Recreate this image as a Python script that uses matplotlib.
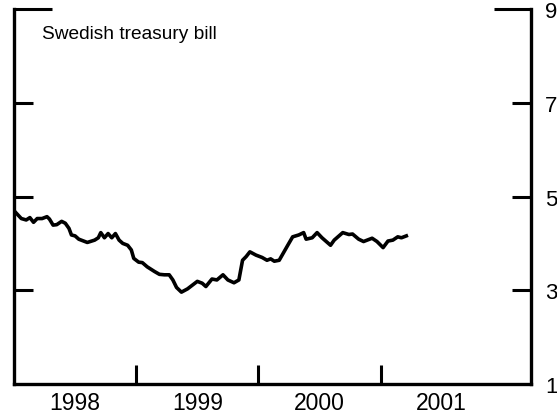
import matplotlib
matplotlib.use("Agg")
import matplotlib.pyplot as plt

plt.rcParams['font.family'] = ['Liberation Sans', 'DejaVu Sans']

# Swedish treasury bill rate, percent
years = [1998.01, 1998.06, 1998.10, 1998.13, 1998.16, 1998.19, 1998.23, 1998.27,
         1998.29, 1998.32, 1998.35, 1998.39, 1998.42, 1998.45, 1998.47, 1998.50,
         1998.53, 1998.60, 1998.66, 1998.69, 1998.71, 1998.74, 1998.77, 1998.80,
         1998.83, 1998.86, 1998.89, 1998.93, 1998.96, 1998.98, 1999.02, 1999.05,
         1999.09, 1999.15, 1999.19, 1999.23, 1999.27, 1999.30, 1999.33, 1999.37,
         1999.42, 1999.46, 1999.50, 1999.54, 1999.57, 1999.62, 1999.66, 1999.71,
         1999.75, 1999.80, 1999.84, 1999.87, 1999.90, 1999.93, 1999.98, 2000.03,
         2000.07, 2000.10, 2000.13, 2000.17, 2000.24, 2000.28, 2000.33, 2000.37,
         2000.39, 2000.44, 2000.48, 2000.52, 2000.59, 2000.62, 2000.69, 2000.74,
         2000.77, 2000.82, 2000.86, 2000.93, 2000.97, 2001.02, 2001.06, 2001.10,
         2001.14, 2001.17, 2001.21]
rate = [4.67, 4.53, 4.50, 4.55, 4.45, 4.53, 4.53, 4.57,
        4.52, 4.39, 4.40, 4.47, 4.43, 4.32, 4.18, 4.16,
        4.09, 4.02, 4.07, 4.12, 4.23, 4.12, 4.21, 4.12,
        4.21, 4.07, 4.00, 3.96, 3.86, 3.68, 3.60, 3.59,
        3.50, 3.40, 3.34, 3.33, 3.33, 3.22, 3.06, 2.96,
        3.03, 3.11, 3.19, 3.15, 3.08, 3.24, 3.22, 3.33,
        3.22, 3.16, 3.22, 3.64, 3.72, 3.82, 3.75, 3.70,
        3.64, 3.67, 3.62, 3.64, 3.96, 4.14, 4.18, 4.23,
        4.09, 4.12, 4.23, 4.12, 3.96, 4.07, 4.23, 4.19,
        4.20, 4.09, 4.04, 4.11, 4.04, 3.91, 4.05, 4.07,
        4.14, 4.12, 4.16]

year_labels = ['1998', '1999', '2000', '2001']
year_starts = [1998, 1999, 2000, 2001]
y_ticks = [1, 3, 5, 7, 9]

fig = plt.figure(figsize=(5.57, 4.14), dpi=100)
ax = fig.add_axes([0.0251, 0.070, 0.9282, 0.9058])

ax.plot(years, rate, color='black', linewidth=2.6, solid_joinstyle='round')

ax.set_xlim(1998, 2002.23)
ax.set_ylim(1, 9)

ax.spines['top'].set_visible(False)
for s in ['left', 'right', 'bottom']:
    ax.spines[s].set_linewidth(2.4)

# x axis: year boundaries as inward ticks, labels centred in each year
ax.set_xticks(year_starts[1:])
ax.set_xticklabels([])
ax.tick_params(axis='x', which='major', direction='in', length=13.5, width=2.2)
ax.set_xticks([y + 0.5 for y in year_starts], minor=True)
ax.set_xticklabels(year_labels, minor=True, fontsize=16.5)
ax.tick_params(axis='x', which='minor', length=0, pad=5)

# y axis: ticks on both sides, labels on the right
ax.set_yticks(y_ticks)
ax.set_yticklabels([str(v) for v in y_ticks], fontsize=16)
ax.tick_params(axis='y', direction='in', length=13.5, width=2.2,
               left=True, right=True, labelleft=False, labelright=True, pad=10)
for t in ax.yaxis.get_major_ticks():
    v = t.get_loc()
    if v == 9:
        t.tick1line.set_markersize(27)
        t.tick2line.set_markersize(27)
    elif v == 1:
        t.tick1line.set_markersize(0)
        t.tick2line.set_markersize(0)

ax.text(0.054, 0.935, 'Swedish treasury bill', transform=ax.transAxes,
        fontsize=13.8, ha='left', va='center')

fig.savefig('out.png', dpi=100)
